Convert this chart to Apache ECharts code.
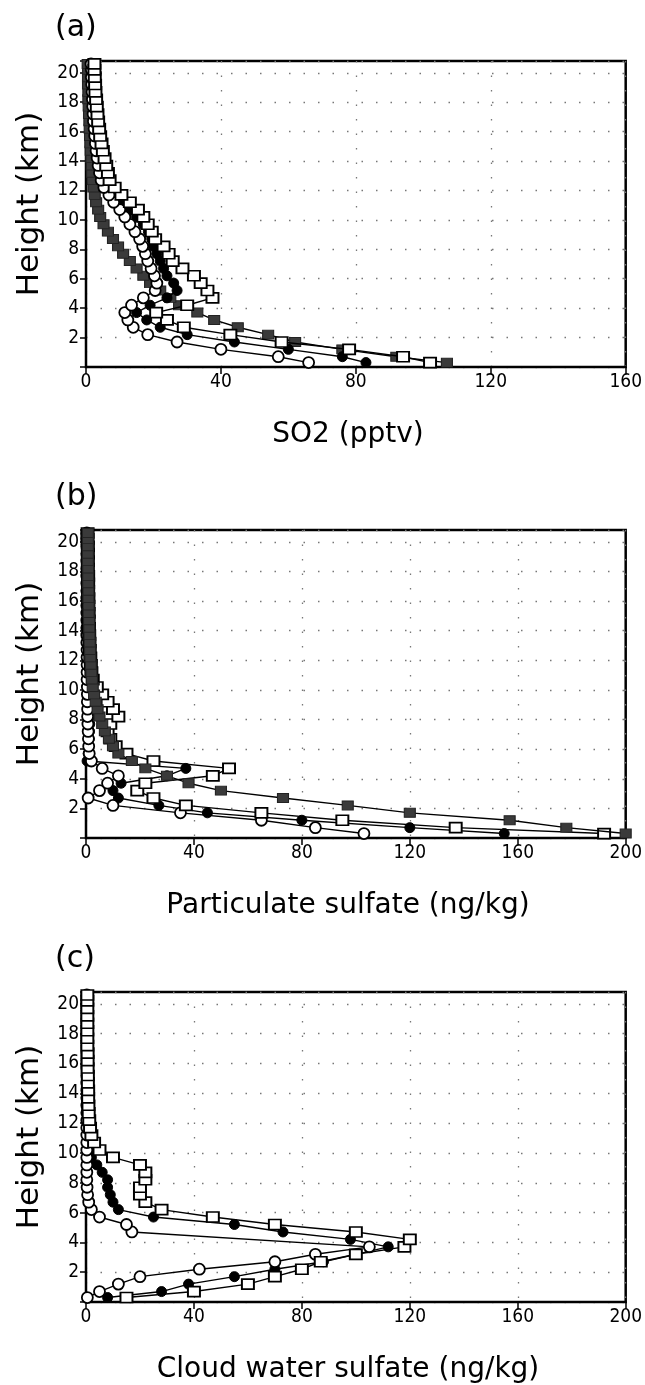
<!DOCTYPE html>
<html><head><meta charset="utf-8">
<script src="https://cdn.jsdelivr.net/npm/echarts@6/dist/echarts.min.js"></script>
<style>html,body{margin:0;padding:0;background:#fff}#c{width:645px;height:1385px}</style>
</head><body><div id="c"></div><script>
// model level heights (km)
const levels=[0.3,0.7,1.2,1.7,2.2,2.7,3.2,3.7,4.2,4.7,5.2,5.7,6.2,6.7,7.2,7.7,8.2,8.7,9.2,9.7,10.2,10.7,11.2,11.7,12.2,12.7,13.2,13.7,14.2,14.7,15.2,15.7,16.2,16.7,17.2,17.7,18.2,18.7,19.2,19.7,20.2,20.6];
const panelLabels=['(a)','(b)','(c)'];
const xNames=['SO2 (pptv)','Particulate sulfate (ng/kg)','Cloud water sulfate (ng/kg)'];
const xMax=[160,200,200];
const yTickLabels=[2,4,6,8,10,12,14,16,18,20];
// (a) SO2
const a_fs=[107,92,76,62,54,45,38,33,27.6,25,22,19,17,15,13,11,9.5,8,6.5,5.2,4.2,3.6,3,2.6,2.2,2,1.8,1.7,1.6,1.4,1.3,1.2,1.1,1,0.9,0.8,0.7,0.7,0.6,0.6,0.6,0.5];
const a_fc=[83,76,60,44,30,22,18,15,19,24,27,26,24,23,22,21,20,19.5,18.5,17,15,13,11,9,7,5.5,4.8,4.3,3.9,3.5,3.2,3,2.8,2.6,2.4,2.3,2.2,2.1,2,1.9,1.8,1.8];
const a_oc=[66,57,40,27,18.3,14,12.4,11.5,13.5,17,20.5,21,20.3,19.3,18.3,17.6,16.8,15.9,14.5,13,11.5,10,8.2,6.8,5.3,4.5,4,3.6,3.3,3,2.8,2.6,2.4,2.2,2.1,2,1.9,1.8,1.7,1.6,1.6,1.5];
const a_os=[102,94,78,58,42.8,29,24,20.8,30,37.5,36,34,32,28.6,25.7,24.5,23,20.5,19.5,18.3,17,15.4,13,10.5,8.5,7,6.5,6,5.5,5,4.6,4.2,3.9,3.6,3.4,3.2,3,2.8,2.7,2.6,2.5,2.5];
// (b) particulate sulfate
const b_fs=[200,178,157,120,97,73,50,38,30,22,17,12,10,8.5,7,6,5,4.3,3.6,3,2.5,2.2,2,1.8,1.6,1.5,1.4,1.3,1.2,1.1,1,1,0.9,0.9,0.8,0.8,0.8,0.7,0.7,0.7,0.7,0.7];
const b_fc=[155,120,80,45,27,12,10,13,30,37,0.4,0.8,1,1.2,1.3,1.4,1.3,1.2,1,0.9,0.8,0.7,0.6,0.6,0.5,0.5,0.5,0.5,0.4,0.4,0.4,0.4,0.4,0.4,0.4,0.3,0.3,0.3,0.3,0.3,0.3,0.3];
const b_oc=[103,85,65,35,10,0.8,5,8,12,6,2,1.2,1,0.9,0.8,0.7,0.6,0.6,0.5,0.5,0.5,0.4,0.4,0.4,0.4,0.4,0.3,0.3,0.3,0.3,0.3,0.3,0.3,0.3,0.3,0.3,0.3,0.3,0.3,0.3,0.3,0.3];
const b_os=[192,137,95,65,37,25,19,22,47,53,25,15,11,9,8,9,12,10,8,6,4,2.5,2,1.8,1.6,1.4,1.3,1.2,1.1,1,1,0.9,0.9,0.8,0.8,0.8,0.7,0.7,0.7,0.7,0.6,0.6];
// (c) cloud water sulfate
const c_fc=[8,28,38,55,70,88,100,112,98,73,55,25,12,10,9,8,8,6,4,2,1,0.8,0.6,0.5,0.4,0.4,0.3,0.3,0.3,0.3,0.3,0.3,0.3,0.3,0.3,0.3,0.3,0.3,0.3,0.3,0.3,0.3];
const c_oc=[0.5,5,12,20,42,70,85,105,null,17,15,5,2,1,0.6,0.4,0.3,0.3,0.3,0.3,0.3,0.3,0.3,0.3,0.3,0.3,0.3,0.3,0.3,0.3,0.3,0.3,0.3,0.3,0.3,0.3,0.3,0.3,0.3,0.3,0.3,0.3];
const c_os=[15,40,60,70,80,87,100,118,120,100,70,47,28,22,20,20,22,22,20,10,5,3,2,1.5,1.2,1,0.9,0.8,0.8,0.7,0.7,0.6,0.6,0.6,0.5,0.5,0.5,0.5,0.5,0.5,0.5,0.5];

const grids=[{left:86,right:15,top:61,height:306},{left:86,right:15,top:530,height:308},{left:86,right:15,top:992,height:310}];
const chart=echarts.init(document.getElementById('c'),null,{renderer:'canvas'});
const tickFont="'Liberation Sans Narrow','DejaVu Sans Condensed','Liberation Sans',sans-serif";
const textFont="'DejaVu Sans',sans-serif";
const styles={
  fs:{symbol:'rect',symbolSize:[11,9],itemStyle:{color:'#3a3a3a',borderColor:'#222',borderWidth:1},z:2},
  fc:{symbol:'circle',symbolSize:10,itemStyle:{color:'#000',borderColor:'#000',borderWidth:1},z:3},
  oc:{symbol:'circle',symbolSize:11,itemStyle:{color:'#fff',borderColor:'#000',borderWidth:1.8},z:4},
  os:{symbol:'rect',symbolSize:[12,10],itemStyle:{color:'#fff',borderColor:'#000',borderWidth:1.8},z:5}
};
function mk(vals,g,kind,zOverride){
  const data=[];
  vals.forEach((v,i)=>{ if(v!==null) data.push([v,levels[i]]); });
  const s=Object.assign({type:'line',xAxisIndex:g,yAxisIndex:g,data:data,showSymbol:true,
    lineStyle:{color:'#000',width:1.4},animation:false,silent:true},styles[kind]);
  if(zOverride) s.z=zOverride;
  return s;
}
const xAxes=[],yAxes=[],graphics=[];
grids.forEach((gr,g)=>{
  xAxes.push({type:'value',gridIndex:g,min:0,max:xMax[g],interval:40,
    axisLine:{show:true,lineStyle:{color:'#000',width:2}},
    axisTick:{show:true,inside:false,length:7,lineStyle:{color:'#000',width:1.5}},
    axisLabel:{color:'#000',fontFamily:tickFont,fontSize:19,margin:6},
    splitLine:{show:true,lineStyle:{color:'#777',type:[1.5,13],width:1.3}}});
  yAxes.push({type:'value',gridIndex:g,min:0,max:20.8,interval:2,
    axisLine:{show:true,lineStyle:{color:'#000',width:2}},
    axisTick:{show:true,inside:false,length:6,lineStyle:{color:'#000',width:1.5}},
    axisLabel:{color:'#000',fontFamily:tickFont,fontSize:19,margin:7,
      formatter:v=>(yTickLabels.indexOf(v)>=0?String(v):'')},
    splitLine:{show:true,lineStyle:{color:'#777',type:[1.5,13],width:1.3}}});
  graphics.push({type:'text',left:55,top:gr.top-48,style:{text:panelLabels[g],font:'30px '+textFont,fill:'#000'}});
  graphics.push({type:'text',x:30,y:gr.top+gr.height/2-10,rotation:Math.PI/2,
    style:{text:'Height (km)',font:'31px '+textFont,fill:'#000',align:'center',verticalAlign:'middle'}});
  graphics.push({type:'text',x:86+(645-15-86)/2-10,y:gr.top+gr.height+68,
    style:{text:xNames[g],font:'28px '+textFont,fill:'#000',align:'center',verticalAlign:'middle'}});
});
const series=[
  mk(a_fs,0,'fs'),mk(a_fc,0,'fc'),mk(a_oc,0,'oc'),mk(a_os,0,'os'),
  mk(b_fc,1,'fc'),mk(b_oc,1,'oc'),mk(b_os,1,'os'),mk(b_fs,1,'fs',6),
  mk(c_fc,2,'fc'),mk(c_oc,2,'oc'),mk(c_os,2,'os')
];
chart.setOption({
  backgroundColor:'#fff',animation:false,
  grid:grids.map(gr=>Object.assign({show:true,borderColor:'#000',borderWidth:2.5,backgroundColor:'transparent'},gr)),
  xAxis:xAxes,yAxis:yAxes,series:series,graphic:graphics
});
</script></body></html>
